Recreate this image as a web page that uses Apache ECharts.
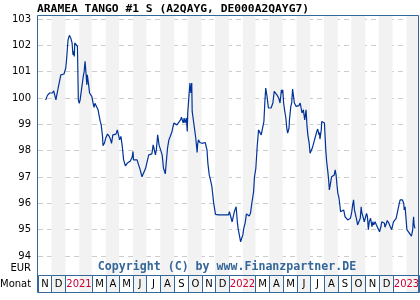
<!DOCTYPE html>
<html>
<head>
<meta charset="UTF-8">
<title>ARAMEA TANGO #1 S</title>
<script src="https://cdn.jsdelivr.net/npm/echarts@6/dist/echarts.min.js"></script>
<style>
  html, body { margin: 0; padding: 0; background: #fff; }
  #chart { width: 420px; height: 300px; }
</style>
</head>
<body>
<div id="chart"></div>
<script>
// Kursverlauf
var dates = [
  '2020-11-18','2020-11-22','2020-11-27','2020-11-30','2020-12-03','2020-12-06','2020-12-08','2020-12-11','2020-12-13','2020-12-16',
  '2020-12-19','2020-12-22','2020-12-26','2020-12-29','2021-01-02','2021-01-04','2021-01-07','2021-01-10','2021-01-13','2021-01-16',
  '2021-01-18','2021-01-19','2021-01-21','2021-01-22','2021-01-24','2021-01-28','2021-01-30','2021-02-01','2021-02-03','2021-02-04',
  '2021-02-07','2021-02-10','2021-02-12','2021-02-14','2021-02-16','2021-02-18','2021-02-19','2021-02-22','2021-02-24','2021-02-27',
  '2021-03-01','2021-03-04','2021-03-06','2021-03-08','2021-03-12','2021-03-15','2021-03-17','2021-03-20','2021-03-22','2021-03-25',
  '2021-03-26','2021-03-29','2021-04-01','2021-04-05','2021-04-09','2021-04-12','2021-04-14','2021-04-17','2021-04-20','2021-04-24',
  '2021-04-27','2021-04-29','2021-05-02','2021-05-05','2021-05-08','2021-05-11','2021-05-15','2021-05-19','2021-05-22','2021-05-26',
  '2021-05-30','2021-06-01','2021-06-02','2021-06-06','2021-06-10','2021-06-14','2021-06-17','2021-06-21','2021-06-23','2021-06-25',
  '2021-06-29','2021-07-02','2021-07-06','2021-07-10','2021-07-13','2021-07-16','2021-07-19','2021-07-21','2021-07-23','2021-07-26',
  '2021-07-29','2021-08-01','2021-08-05','2021-08-08','2021-08-12','2021-08-14','2021-08-17','2021-08-20','2021-08-23','2021-08-27',
  '2021-08-31','2021-09-03','2021-09-07','2021-09-11','2021-09-15','2021-09-17','2021-09-21','2021-09-23','2021-09-25','2021-09-28',
  '2021-09-30','2021-10-01','2021-10-04','2021-10-06','2021-10-08','2021-10-10','2021-10-11','2021-10-14','2021-10-16','2021-10-19',
  '2021-10-22','2021-10-23','2021-10-25','2021-10-28','2021-11-02','2021-11-05','2021-11-09','2021-11-11','2021-11-13','2021-11-15',
  '2021-11-18','2021-11-20','2021-11-24','2021-11-28','2021-12-02','2021-12-09','2021-12-16','2021-12-24','2021-12-28','2021-12-31',
  '2022-01-02','2022-01-05','2022-01-08','2022-01-10','2022-01-13','2022-01-15','2022-01-17','2022-01-20','2022-01-22','2022-01-25',
  '2022-01-27','2022-01-30','2022-02-01','2022-02-03','2022-02-06','2022-02-09','2022-02-12','2022-02-15','2022-02-18','2022-02-21',
  '2022-02-25','2022-02-27','2022-03-02','2022-03-05','2022-03-08','2022-03-12','2022-03-14','2022-03-17','2022-03-20','2022-03-22',
  '2022-03-24','2022-03-26','2022-03-27','2022-03-30','2022-04-01','2022-04-05','2022-04-07','2022-04-09','2022-04-12','2022-04-14',
  '2022-04-18','2022-04-22','2022-04-25','2022-04-28','2022-04-30','2022-05-01','2022-05-03','2022-05-05','2022-05-08','2022-05-10',
  '2022-05-12','2022-05-15','2022-05-16','2022-05-19','2022-05-21','2022-05-23','2022-05-25','2022-05-27','2022-05-31','2022-06-03',
  '2022-06-06','2022-06-09','2022-06-11','2022-06-13','2022-06-16','2022-06-19','2022-06-22','2022-06-24','2022-06-26','2022-06-29',
  '2022-07-01','2022-07-03','2022-07-06','2022-07-10','2022-07-13','2022-07-16','2022-07-18','2022-07-21','2022-07-22','2022-07-23',
  '2022-07-26','2022-07-27','2022-07-31','2022-08-02','2022-08-05','2022-08-07','2022-08-10','2022-08-12','2022-08-13','2022-08-15',
  '2022-08-18','2022-08-21','2022-08-24','2022-08-26','2022-08-28','2022-08-30','2022-09-01','2022-09-03','2022-09-05','2022-09-07',
  '2022-09-11','2022-09-14','2022-09-17','2022-09-21','2022-09-23','2022-09-26','2022-09-29','2022-10-02','2022-10-04','2022-10-06',
  '2022-10-08','2022-10-11','2022-10-13','2022-10-15','2022-10-18','2022-10-21','2022-10-23','2022-10-24','2022-10-28','2022-10-30',
  '2022-11-02','2022-11-04','2022-11-06','2022-11-08','2022-11-10','2022-11-13','2022-11-16','2022-11-18','2022-11-20','2022-11-23',
  '2022-11-26','2022-11-29','2022-12-01','2022-12-03','2022-12-06','2022-12-08','2022-12-11','2022-12-14','2022-12-15','2022-12-18',
  '2022-12-20','2022-12-23','2022-12-25','2022-12-27','2022-12-30','2023-01-01','2023-01-03','2023-01-06','2023-01-09','2023-01-12',
  '2023-01-16','2023-01-18','2023-01-20','2023-01-23','2023-01-26','2023-01-27','2023-01-29','2023-01-31','2023-02-02','2023-02-05',
  '2023-02-09','2023-02-12','2023-02-13','2023-02-15','2023-02-16','2023-02-17','2023-02-18','2023-02-20'
];
var prices = [
  99.92,100.10,100.19,100.25,100.19,100.27,100.25,99.93,100.12,100.38,
  100.63,100.88,100.95,100.91,101.14,101.52,102.21,102.38,102.28,102.09,
  101.64,101.77,101.58,102.09,102.02,101.96,99.93,99.80,99.93,100.06,
  100.44,100.82,101.01,101.39,100.95,100.50,100.88,100.50,100.19,100.12,
  100.06,99.80,99.64,99.80,99.74,99.55,99.36,99.10,98.98,98.54,
  98.19,98.28,98.47,98.63,98.54,98.41,98.28,98.60,98.54,98.63,
  98.79,98.82,98.41,98.54,98.16,97.65,97.42,97.52,97.55,97.61,
  97.75,97.97,97.65,97.59,97.65,97.61,97.27,97.01,96.95,97.08,
  97.33,97.55,97.84,97.91,97.88,98.22,98.26,97.84,98.03,98.60,
  98.22,98.16,97.84,97.33,97.12,97.52,98.10,98.41,98.54,98.73,
  99.05,99.05,98.98,99.05,99.17,99.27,99.05,99.24,99.05,99.24,
  98.73,99.43,100.12,100.57,100.19,100.57,99.49,99.43,98.86,98.47,
  97.93,98.22,98.41,98.31,98.28,98.22,98.31,98.31,98.03,97.52,
  97.08,96.95,96.63,96.00,95.58,95.56,95.56,95.56,95.60,95.56,
  95.68,95.49,95.30,95.30,95.68,95.78,95.87,95.24,94.99,94.73,
  94.54,94.54,94.80,95.05,95.24,95.60,95.60,95.52,95.62,96.00,
  96.44,97.01,97.33,98.16,98.79,98.86,98.60,98.86,99.11,99.81,
  100.38,100.44,100.06,99.62,99.68,99.62,99.58,99.81,100.25,100.19,
  100.12,100.00,99.81,100.31,100.19,100.31,99.81,99.55,99.24,98.86,
  98.67,98.86,99.17,99.68,99.81,100.34,100.06,99.81,99.68,99.62,
  99.71,99.81,99.62,99.43,99.55,99.17,99.55,98.98,98.60,98.28,
  97.90,97.97,98.10,98.35,98.41,98.73,98.82,98.60,98.69,98.44,
  98.79,99.11,99.07,99.05,98.03,97.59,97.14,96.76,96.51,96.70,
  97.01,97.01,97.08,97.27,97.08,96.70,96.38,96.25,96.00,95.68,
  95.68,95.75,95.49,95.49,95.37,95.35,95.43,95.68,95.94,96.13,
  95.75,95.75,95.37,95.18,95.22,95.43,95.87,95.68,95.43,95.30,
  95.49,95.62,95.49,95.00,95.30,95.43,95.11,95.30,95.18,95.30,
  95.18,95.11,95.00,94.92,95.11,95.30,95.37,95.24,95.09,95.22,
  95.35,95.27,95.27,95.11,95.00,95.05,95.30,95.37,95.43,95.49,
  96.00,96.13,96.06,96.13,96.00,95.75,95.87,95.43,95.00,94.95,
  94.83,94.75,94.71,94.99,95.30,95.49,95.18,95.05
];

// Monatsleiste ab November 2020 (leer = gehoert zum Feld davor)
var monthLabels = ['N','D','2021','','M','A','M','J','J','A','S','O',
                   'N','D','2022','','M','A','M','J','J','A','S','O',
                   'N','D','2023',''];

var yMin = 94, yMax = 103, yStep = 1;

var FRAME = '#336699';
var LINE = '#003399';

function monthStart(i) {
    return new Date(2020, 10 + i, 1).getTime();
}

// graue Streifen jeden zweiten Monat
var stripes = [];
for (var i = 0; i < monthLabels.length; i++) {
    if (i % 2 == 1) stripes.push([monthStart(i), monthStart(i + 1)]);
}

// Felder der Monatsleiste
var boxes = [], boxText = [];
for (var i = 0; i < monthLabels.length; i++) {
    if (monthLabels[i] !== '') {
        boxes.push([monthStart(i), monthStart(i + 1)]);
        boxText.push(monthLabels[i]);
    } else {
        boxes[boxes.length - 1][1] = monthStart(i + 1);
    }
}

var chart = echarts.init(document.getElementById('chart'));

var xAxes = [0, 1, 2].map(function (g) {
    return { type: 'time', gridIndex: g, min: monthStart(0), max: monthStart(monthLabels.length), show: false };
});

var option = {
    animation: false,
    grid: [
        { left: 38, right: 1, top: 15, bottom: 7 },   // Hintergrund
        { left: 38, right: 1, top: 19, bottom: 44 },  // Kurs
        { left: 38, right: 1, top: 275, bottom: 7 }   // Monate
    ],
    xAxis: xAxes,
    yAxis: [
        { gridIndex: 0, min: 0, max: 1, show: false },
        {
            gridIndex: 1, type: 'value', min: yMin, max: yMax, interval: yStep,
            axisLine: { show: false }, axisTick: { show: false },
            axisLabel: { margin: 7, fontSize: 10, fontFamily: 'DejaVu Sans', color: '#000' },
            splitLine: { lineStyle: { color: '#cccccc', width: 1, type: [5, 4] } }
        },
        { gridIndex: 2, min: 0, max: 1, show: false }
    ],
    series: [
        {
            type: 'custom', xAxisIndex: 0, yAxisIndex: 0, silent: true, z: 1,
            data: stripes, encode: { x: [0, 1] },
            renderItem: function (params, api) {
                var cs = params.coordSys;
                var x0 = api.coord([api.value(0), 0])[0];
                var x1 = api.coord([api.value(1), 0])[0];
                return { type: 'rect', shape: { x: x0, y: cs.y, width: x1 - x0, height: cs.height },
                         style: { fill: '#f2f2f2' } };
            }
        },
        {
            type: 'line', xAxisIndex: 1, yAxisIndex: 1, z: 3,
            data: dates.map(function (d, i) { return [d, prices[i]]; }),
            showSymbol: false, symbol: 'none',
            lineStyle: { color: LINE, width: 1.2 }
        },
        {
            type: 'custom', xAxisIndex: 2, yAxisIndex: 2, silent: true, z: 5,
            data: boxes, encode: { x: [0, 1] },
            renderItem: function (params, api) {
                var cs = params.coordSys;
                var x0 = Math.round(api.coord([api.value(0), 0])[0]);
                var x1 = Math.round(api.coord([api.value(1), 0])[0]);
                var t = boxText[params.dataIndex];
                var isYear = t.length > 1;
                return {
                    type: 'group',
                    children: [
                        { type: 'rect', shape: { x: x0 + 0.5, y: cs.y + 0.5, width: x1 - x0, height: cs.height - 1 },
                          style: { fill: 'none', stroke: FRAME, lineWidth: 1 } },
                        { type: 'text', style: { text: t, x: (x0 + x1) / 2 + 0.5, y: cs.y + cs.height / 2 + 0.5,
                          align: 'center', verticalAlign: 'middle',
                          fill: isYear ? '#cc0033' : '#000', font: '10px "DejaVu Sans"' } }
                    ]
                };
            }
        }
    ],
    graphic: [
        { type: 'rect', z: 10, shape: { x: 37.5, y: 15.5, width: 381, height: 277 },
          style: { fill: 'none', stroke: FRAME, lineWidth: 1 } },
        { type: 'text', z: 10, style: { text: 'ARAMEA TANGO #1 S (A2QAYG, DE000A2QAYG7)', x: 37, y: 9,
          verticalAlign: 'middle', font: 'bold 11.3px "DejaVu Sans Mono"', fill: '#000' } },
        { type: 'text', z: 10, style: { text: 'Copyright (C) by www.Finanzpartner.DE', x: 227, y: 267,
          align: 'center', verticalAlign: 'middle', font: 'bold 11.6px "DejaVu Sans Mono"', fill: FRAME } },
        { type: 'text', z: 10, style: { text: 'EUR', x: 31, y: 268, align: 'right', verticalAlign: 'middle',
          font: '10px "DejaVu Sans"', fill: '#000' } },
        { type: 'text', z: 10, style: { text: 'Monat', x: 0, y: 284, align: 'left', verticalAlign: 'middle',
          font: '10px "DejaVu Sans"', fill: '#000' } }
    ]
};

chart.setOption(option);
</script>
</body>
</html>
